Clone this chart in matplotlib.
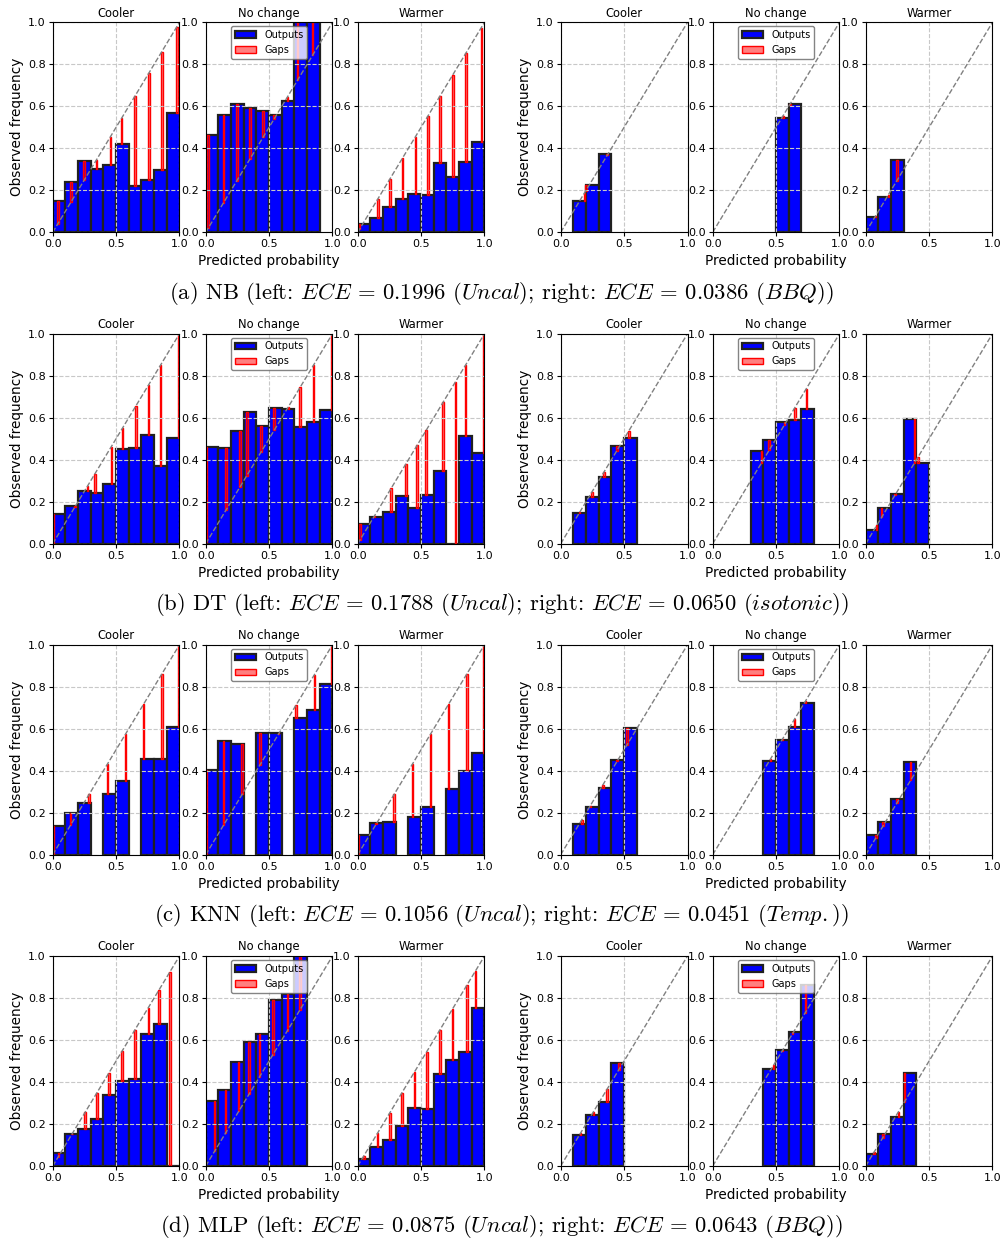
import numpy as np
import matplotlib
matplotlib.use('Agg')
import matplotlib.pyplot as plt

plt.rcParams['mathtext.fontset'] = 'cm'

n = np.nan
classes = ['Cooler', 'No change', 'Warmer']
bin_edges = np.linspace(0, 1, 11)

# observed frequency (acc) and mean predicted prob (conf) per bin, nan = empty bin
# (a) NB
nb_uncal_acc = [[0.15, 0.24, 0.34, 0.30, 0.32, 0.42, 0.222, 0.25, 0.297, 0.568],
                [0.462, 0.559, 0.611, 0.594, 0.579, 0.557, 0.627, 1.0, 1.0, n],
                [0.038, 0.067, 0.122, 0.157, 0.181, 0.178, 0.332, 0.263, 0.333, 0.429]]
nb_uncal_conf = [[0.04, 0.145, 0.247, 0.345, 0.455, 0.542, 0.65, 0.758, 0.86, 0.98],
                 [0.02, 0.14, 0.245, 0.35, 0.453, 0.54, 0.645, 0.724, 0.842, n],
                 [0.015, 0.16, 0.254, 0.352, 0.454, 0.553, 0.65, 0.75, 0.855, 0.975]]
nb_bbq_acc = [[n, 0.148, 0.225, 0.373, n, n, n, n, n, n],
              [n, n, n, n, n, 0.544, 0.611, n, n, n],
              [0.073, 0.168, 0.344, n, n, n, n, n, n, n]]
nb_bbq_conf = [[n, 0.188, 0.199, 0.367, n, n, n, n, n, n],
               [n, n, n, n, n, 0.553, 0.608, n, n, n],
               [0.079, 0.18, 0.245, n, n, n, n, n, n, n]]

# (b) DT
dt_uncal_acc = [[0.143, 0.178, 0.252, 0.241, 0.283, 0.449, 0.454, 0.517, 0.368, 0.502],
                [0.46, 0.456, 0.535, 0.627, 0.56, 0.644, 0.643, 0.556, 0.578, 0.638],
                [0.092, 0.127, 0.149, 0.225, 0.168, 0.233, 0.344, 0.0, 0.514, 0.432]]
dt_uncal_conf = [[0.005, 0.175, 0.274, 0.332, 0.462, 0.549, 0.655, 0.756, 0.849, 0.995],
                 [0.008, 0.16, 0.271, 0.324, 0.437, 0.54, 0.653, 0.745, 0.85, 0.995],
                 [0.018, 0.132, 0.263, 0.379, 0.468, 0.54, 0.674, 0.771, 0.85, 0.997]]
dt_iso_acc = [[n, 0.146, 0.224, 0.319, 0.467, 0.502, n, n, n, n],
              [n, n, n, 0.443, 0.492, 0.579, 0.587, 0.643, n, n],
              [0.065, 0.171, 0.238, 0.595, 0.384, n, n, n, n, n]]
dt_iso_conf = [[n, 0.15, 0.245, 0.341, 0.442, 0.537, n, n, n, n],
               [n, n, n, 0.385, 0.445, 0.565, 0.648, 0.738, n, n],
               [0.087, 0.126, 0.232, 0.383, 0.413, n, n, n, n, n]]

# (c) KNN
knn_uncal_acc = [[0.135, 0.2, 0.246, n, 0.29, 0.351, n, 0.454, 0.454, 0.608],
                 [0.403, 0.54, 0.528, n, 0.579, 0.579, n, 0.651, 0.687, 0.813],
                 [0.094, 0.149, 0.154, n, 0.178, 0.229, n, 0.311, 0.398, 0.484]]
knn_uncal_conf = [[0.005, 0.142, 0.288, n, 0.431, 0.575, n, 0.717, 0.86, 0.997],
                  [0.005, 0.14, 0.287, n, 0.429, 0.573, n, 0.714, 0.857, 0.995],
                  [0.005, 0.145, 0.288, n, 0.431, 0.573, n, 0.717, 0.86, 0.997]]
knn_temp_acc = [[n, 0.146, 0.227, 0.317, 0.452, 0.603, n, n, n, n],
                [n, n, n, n, 0.446, 0.546, 0.61, 0.722, n, n],
                [0.095, 0.157, 0.267, 0.441, n, n, n, n, n, n]]
knn_temp_conf = [[n, 0.166, 0.234, 0.332, 0.445, 0.524, n, n, n, n],
                 [n, n, n, n, 0.455, 0.552, 0.645, 0.733, n, n],
                 [0.08, 0.135, 0.245, 0.355, n, n, n, n, n, n]]

# (d) MLP
mlp_uncal_acc = [[0.06, 0.151, 0.176, 0.225, 0.338, 0.405, 0.416, 0.627, 0.676, 0.0],
                 [0.31, 0.362, 0.497, 0.59, 0.627, 0.789, 0.819, 1.0, n, n],
                 [0.032, 0.09, 0.122, 0.19, 0.278, 0.27, 0.44, 0.503, 0.543, 0.752]]
mlp_uncal_conf = [[0.045, 0.152, 0.255, 0.35, 0.443, 0.546, 0.647, 0.754, 0.837, 0.925],
                  [0.071, 0.158, 0.26, 0.342, 0.424, 0.529, 0.645, 0.745, n, n],
                  [0.048, 0.156, 0.253, 0.35, 0.447, 0.545, 0.649, 0.746, 0.86, 0.93]]
mlp_bbq_acc = [[n, 0.148, 0.244, 0.306, 0.492, n, n, n, n, n],
               [n, n, n, n, 0.46, 0.552, 0.637, 0.86, n, n],
               [0.057, 0.154, 0.233, 0.444, n, n, n, n, n, n]]
mlp_bbq_conf = [[n, 0.155, 0.258, 0.365, 0.458, n, n, n, n, n],
                [n, n, n, n, 0.48, 0.55, 0.628, 0.73, n, n],
                [0.065, 0.135, 0.257, 0.305, n, n, n, n, n, n]]

captions = [r'(a) NB (left: $ECE\,=\,0.1996$ ($Uncal$); right: $ECE\,=\,0.0386$ ($BBQ$))',
            r'(b) DT (left: $ECE\,=\,0.1788$ ($Uncal$); right: $ECE\,=\,0.0650$ ($isotonic$))',
            r'(c) KNN (left: $ECE\,=\,0.1056$ ($Uncal$); right: $ECE\,=\,0.0451$ ($Temp.$))',
            r'(d) MLP (left: $ECE\,=\,0.0875$ ($Uncal$); right: $ECE\,=\,0.0643$ ($BBQ$))']

rows = [(nb_uncal_acc, nb_uncal_conf, nb_bbq_acc, nb_bbq_conf),
        (dt_uncal_acc, dt_uncal_conf, dt_iso_acc, dt_iso_conf),
        (knn_uncal_acc, knn_uncal_conf, knn_temp_acc, knn_temp_conf),
        (mlp_uncal_acc, mlp_uncal_conf, mlp_bbq_acc, mlp_bbq_conf)]

W, H = 1003, 1241
fig = plt.figure(figsize=(W / 100, H / 100), dpi=100)

col_x = [52.7, 205.7, 357.7, 560.7, 712.7, 865.7]   # left edge of each panel, px
row_top = [22.3, 333.7, 644.7, 956.0]
ax_w, ax_h = 126.8, 210.0


def reliability(ax, acc, conf, title, ylabel=False, xlabel=False, legend=False):
    acc = np.asarray(acc, float)
    conf = np.asarray(conf, float)
    m = ~np.isnan(acc)
    ax.bar(bin_edges[:-1][m], acc[m], width=0.1, align='edge', color='blue',
           edgecolor='#202020', linewidth=1.6, label='Outputs')
    ax.bar(conf[m], (acc - conf)[m], bottom=conf[m], width=0.012,
           facecolor=(1, 0, 0, 0.5), edgecolor='red', linewidth=1, label='Gaps')
    ax.plot([0, 1], [0, 1], '--', color='gray', linewidth=1)
    ax.set_xlim(0, 1)
    ax.set_ylim(0, 1)
    ax.set_xticks([0, 0.5, 1.0])
    ax.set_yticks(np.arange(0, 1.01, 0.2))
    ax.grid(True, linestyle='--', color='#c8c8c8', linewidth=0.8)
    ax.tick_params(labelsize=8, length=3, width=0.8, pad=2)
    ax.set_title(title, fontsize=8.3, pad=4)
    if ylabel:
        ax.set_ylabel('Observed frequency', fontsize=9.8, labelpad=3)
    if xlabel:
        ax.set_xlabel('Predicted probability', fontsize=9.8, labelpad=3.5)
    if legend:
        ax.legend(loc='upper center', fontsize=7, handlelength=2.2,
                  borderaxespad=0.4, framealpha=0.8, edgecolor='#666666')


for r, (u_acc, u_conf, c_acc, c_conf) in enumerate(rows):
    for g, (acc_all, conf_all) in enumerate([(u_acc, u_conf), (c_acc, c_conf)]):
        for k in range(3):
            x0 = col_x[g * 3 + k]
            ax = fig.add_axes([x0 / W, 1 - (row_top[r] + ax_h) / H, ax_w / W, ax_h / H])
            reliability(ax, acc_all[k], conf_all[k], classes[k],
                        ylabel=(k == 0), xlabel=(k == 1), legend=(k == 1))
    fig.text(0.5, 1 - (row_top[r] + 271) / H, captions[r], ha='center', va='center',
             fontsize=16.3, family='cmr10')

fig.savefig('out.png', dpi=100)
